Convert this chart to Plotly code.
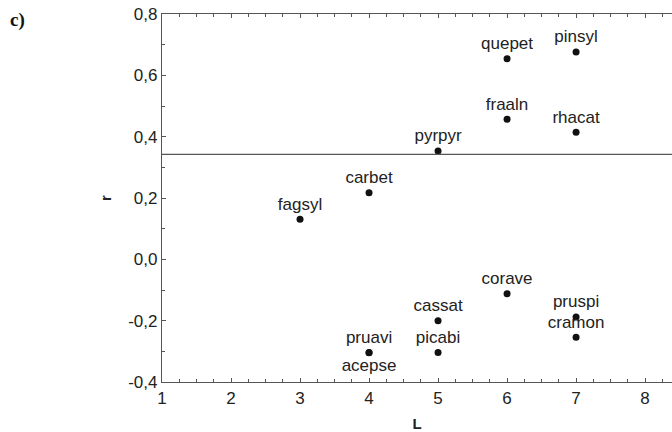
import plotly.graph_objects as go

species = ["quepet", "pinsyl", "fraaln", "rhacat", "pyrpyr", "carbet", "fagsyl",
           "corave", "cassat", "picabi", "pruspi", "cramon", "pruavi", "acepse"]
L_vals = [6, 7, 6, 7, 5, 4, 3, 6, 5, 5, 7, 7, 4, 4]
r_vals = [0.654, 0.676, 0.457, 0.414, 0.353, 0.217, 0.131,
          -0.112, -0.200, -0.304, -0.188, -0.254, -0.304, -0.305]
threshold = 0.342
x_ticks = [1, 2, 3, 4, 5, 6, 7, 8]
y_ticks = [-0.4, -0.2, 0.0, 0.2, 0.4, 0.6, 0.8]
labels_below = {"acepse"}

textpos = ["bottom center" if s in labels_below else "top center" for s in species]
y_ticktext = [f"{v:.1f}".replace(".", ",") for v in y_ticks]

FONT = "Liberation Sans, Arial, sans-serif"

fig = go.Figure()
fig.add_trace(go.Scatter(
    x=L_vals, y=r_vals, mode="markers+text", text=species,
    textposition=textpos,
    textfont=dict(family=FONT, size=17, color="#222"),
    marker=dict(color="#111", size=7),
    showlegend=False, cliponaxis=False,
))

fig.add_shape(type="line", xref="paper", x0=0, x1=1, yref="y", y0=threshold, y1=threshold,
              line=dict(color="#555", width=1.2))

axis_common = dict(showgrid=False, zeroline=False, showline=True, linecolor="#555",
                   linewidth=1.2, ticks="inside", ticklen=4, tickcolor="#555",
                   tickfont=dict(family=FONT, size=17, color="#222"))

fig.update_xaxes(range=[1, 8.39], tickvals=x_ticks, mirror="ticks",
                 minor=dict(dtick=0.25, ticks="inside", ticklen=3, tickcolor="#555"),
                 title=dict(text="<b>L</b>", standoff=11,
                            font=dict(family=FONT, size=15, color="#222")),
                 **axis_common)
fig.update_yaxes(range=[-0.4, 0.8], tickvals=y_ticks, ticktext=y_ticktext,
                 minor=dict(dtick=0.1, ticks="inside", ticklen=3, tickcolor="#555"),
                 title=dict(text="<b>r</b>", standoff=12,
                            font=dict(family=FONT, size=15, color="#222")),
                 **axis_common)

fig.add_annotation(text="<b>c)</b>", xref="paper", yref="paper", x=-0.302, y=0.984,
                   xanchor="left", yanchor="middle", showarrow=False,
                   font=dict(family="Liberation Serif, Times New Roman, serif", size=19, color="#111"))

fig.update_layout(width=672, height=432, margin=dict(l=162, r=0, t=14, b=50),
                  plot_bgcolor="white", paper_bgcolor="white")

fig.write_html("out.html")
